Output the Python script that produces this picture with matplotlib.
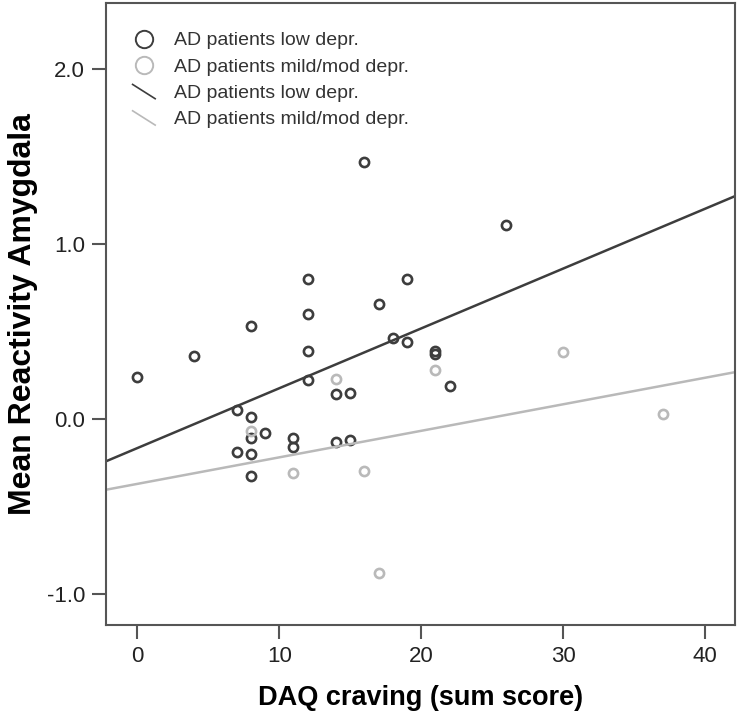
import numpy as np
import matplotlib
matplotlib.use("Agg")
import matplotlib.pyplot as plt
from matplotlib.lines import Line2D
from matplotlib.legend_handler import HandlerBase

plt.rcParams['font.family'] = ['Liberation Sans', 'DejaVu Sans']

# DAQ craving (x) and mean amygdala reactivity (y)
low_x = [0, 4, 7, 7, 8, 8, 8, 8, 8, 9, 11, 11, 12, 12, 12, 12, 14, 14, 15, 15,
         16, 17, 18, 19, 19, 21, 21, 22, 26]
low_y = [0.24, 0.36, 0.05, -0.19, 0.53, 0.01, -0.11, -0.20, -0.33, -0.08,
         -0.11, -0.16, 0.80, 0.60, 0.39, 0.22, 0.14, -0.13, 0.15, -0.12,
         1.47, 0.66, 0.46, 0.80, 0.44, 0.39, 0.37, 0.19, 1.11]

mild_x = [8, 11, 14, 16, 17, 21, 30, 37]
mild_y = [-0.07, -0.31, 0.23, -0.30, -0.88, 0.28, 0.38, 0.03]

labels = ['AD patients low depr.', 'AD patients mild/mod depr.']

dark = '#3d3d3d'
light = '#b9b9b9'

xlim = (-2.2, 42.1)
ylim = (-1.18, 2.38)


class DiagonalLine(HandlerBase):
    # SPSS draws the fit-line legend key as a short diagonal stroke
    def create_artists(self, legend, orig_handle, xdescent, ydescent,
                       width, height, fontsize, trans):
        x0 = -xdescent + 0.1 * width
        x1 = -xdescent + 0.9 * width
        ln = Line2D([x0, x1], [-ydescent + height * 1.0, -ydescent - height * 0.05],
                    color=orig_handle.get_color(),
                    lw=orig_handle.get_linewidth(), transform=trans)
        return [ln]


fig = plt.figure(figsize=(7.37, 7.18), dpi=100)
ax = fig.add_axes([106 / 737, 93 / 718, 629 / 737, 622 / 718])

ax.plot(low_x, low_y, 'o', ms=6.6, mfc='none', mec=dark, mew=1.9)
ax.plot(mild_x, mild_y, 'o', ms=6.6, mfc='none', mec=light, mew=1.9)

# linear fit lines for each group
xs = np.array(xlim)
for gx, gy, col in [(low_x, low_y, dark), (mild_x, mild_y, light)]:
    slope, icpt = np.polyfit(gx, gy, 1)
    ax.plot(xs, icpt + slope * xs, color=col, lw=1.8)

ax.set_xlim(*xlim)
ax.set_ylim(*ylim)
ax.set_xticks([0, 10, 20, 30, 40])
ax.set_yticks([-1.0, 0.0, 1.0, 2.0])
ax.set_yticklabels(['-1.0', '0.0', '1.0', '2.0'])

for s in ax.spines.values():
    s.set_color('#555555')
    s.set_linewidth(1.5)
ax.tick_params(direction='out', length=10, width=1.5, color='#555555',
               labelsize=16, labelcolor='#222222', pad=5)

ax.set_xlabel('DAQ craving (sum score)', fontsize=19.5, fontweight='bold', labelpad=13)
ax.set_ylabel('Mean Reactivity Amygdala', fontsize=23, fontweight='bold', labelpad=6)

handles = [
    Line2D([], [], ls='none', marker='o', ms=12.5, mfc='none', mec=dark, mew=1.4),
    Line2D([], [], ls='none', marker='o', ms=12.5, mfc='none', mec=light, mew=1.4),
    Line2D([], [], color=dark, lw=1.2),
    Line2D([], [], color=light, lw=1.2),
]
leg = ax.legend(handles, labels + labels, loc='upper left',
                bbox_to_anchor=(0.01, 0.982), frameon=False, fontsize=14,
                handlelength=1.45, handletextpad=0.8, labelspacing=0.45,
                handler_map={handles[2]: DiagonalLine(), handles[3]: DiagonalLine()})
for t in leg.get_texts():
    t.set_color('#333333')

fig.savefig('out.png', dpi=100)
